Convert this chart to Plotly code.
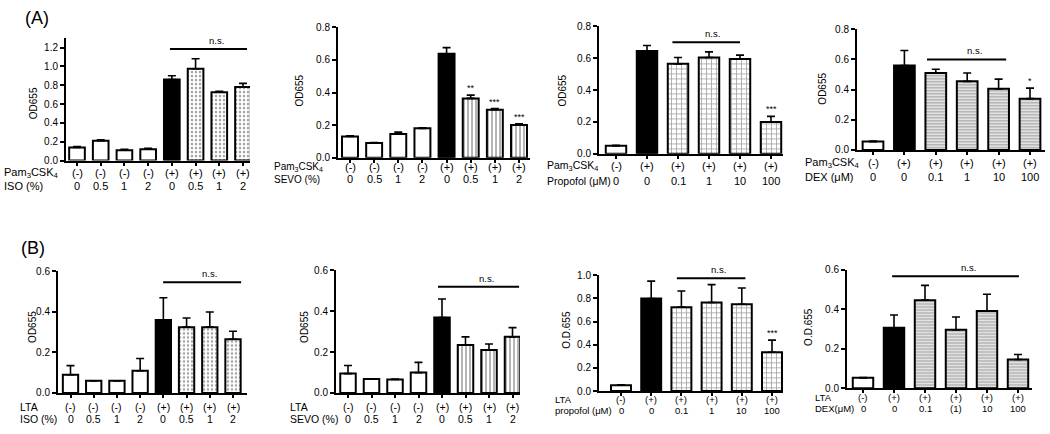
import plotly.graph_objects as go

W, H = 1050, 434

# ---------------- data ----------------
pam_iso_stim = ["(-)", "(-)", "(-)", "(-)", "(+)", "(+)", "(+)", "(+)"]
iso_dose = ["0", "0.5", "1", "2", "0", "0.5", "1", "2"]
sevo_dose = ["0", "0.5", "1", "2", "0", "0.5", "1", "2"]
six_stim = ["(-)", "(+)", "(+)", "(+)", "(+)", "(+)"]
propofol_dose = ["0", "0", "0.1", "1", "10", "100"]
dex_dose_a = ["0", "0", "0.1", "1", "10", "100"]
dex_dose_b = ["0", "0", "0.1", "(1)", "10", "100"]

a_iso_val = [0.14, 0.21, 0.11, 0.12, 0.86, 0.975, 0.725, 0.78]
a_iso_err = [0.01, 0.01, 0.01, 0.01, 0.04, 0.105, 0.01, 0.04]
a_sevo_val = [0.13, 0.09, 0.145, 0.18, 0.638, 0.364, 0.294, 0.20]
a_sevo_err = [0.005, 0.003, 0.012, 0.003, 0.038, 0.02, 0.008, 0.008]
a_prop_val = [0.05, 0.645, 0.565, 0.605, 0.595, 0.20]
a_prop_err = [0.003, 0.035, 0.04, 0.035, 0.025, 0.035]
a_dex_val = [0.055, 0.56, 0.51, 0.455, 0.405, 0.34]
a_dex_err = [0.003, 0.10, 0.025, 0.055, 0.065, 0.07]

b_iso_val = [0.09, 0.06, 0.06, 0.11, 0.36, 0.325, 0.325, 0.265]
b_iso_err = [0.045, 0.0, 0.0, 0.06, 0.11, 0.045, 0.075, 0.04]
b_sevo_val = [0.095, 0.068, 0.066, 0.10, 0.37, 0.235, 0.21, 0.275]
b_sevo_err = [0.04, 0.002, 0.002, 0.05, 0.09, 0.04, 0.03, 0.045]
b_prop_val = [0.05, 0.80, 0.725, 0.765, 0.75, 0.335]
b_prop_err = [0.003, 0.15, 0.14, 0.155, 0.14, 0.105]
b_dex_val = [0.052, 0.305, 0.445, 0.295, 0.39, 0.145]
b_dex_err = [0.002, 0.065, 0.075, 0.065, 0.085, 0.025]

# significance marks: (bar index, text)
a_sevo_sig = [(5, "**"), (6, "***"), (7, "***")]
a_prop_sig = [(5, "***")]
a_dex_sig = [(5, "*")]
b_prop_sig = [(5, "***")]

# n.s. bars: (from, to, level)
a_iso_ns = (3.92, 7.17, 1.185)
a_prop_ns = (1.82, 4.0, 0.70)
a_dex_ns = (1.72, 4.24, 0.60)
b_iso_ns = (3.99, 7.35, 0.547)
b_sevo_ns = (3.83, 7.28, 0.52)
b_prop_ns = (1.85, 4.12, 0.975)
b_dex_ns = (0.94, 5.03, 0.566)

PAM = "Pam<sub>3</sub>CSK<sub>4</sub>"

# ---------------- styles / layout ----------------
FONT = "Liberation Sans, Arial, sans-serif"
iso_pat = dict(shape=".", size=4, solidity=0.32, fgcolor="white", bgcolor="black")
sevo_pat = dict(shape="|", size=4, solidity=0.4, fgcolor="black", bgcolor="white")
prop_pat = dict(shape="+", size=5, solidity=0.3, fgcolor="black", bgcolor="white")
dex_pat = dict(shape="-", size=3, solidity=0.55, fgcolor="#8a8a8a", bgcolor="white")

panels = [
    dict(v=a_iso_val, e=a_iso_err, s=pam_iso_stim, d=iso_dose, pat=iso_pat, sig=[], ns=a_iso_ns,
         h1=PAM, h2="ISO (%)", yt="OD655", ymax=1.3, ticks=[0, 0.2, 0.4, 0.6, 0.8, 1.0, 1.2],
         g=(66, 250, 77, 243, 33, 159, 172, 185, 2, 11, 11), ytp=(33, 100)),
    dict(v=a_sevo_val, e=a_sevo_err, s=pam_iso_stim, d=sevo_dose, pat=sevo_pat, sig=a_sevo_sig, ns=None,
         h1=PAM, h2="SEVO (%)", yt="OD655", ymax=0.8, ticks=[0, 0.2, 0.4, 0.6, 0.8],
         g=(338, 530, 350, 519, 22, 156, 166, 178, 272, 11, 10), ytp=(300, 87)),
    dict(v=a_prop_val, e=a_prop_err, s=six_stim, d=propofol_dose, pat=prop_pat, sig=a_prop_sig, ns=a_prop_ns,
         h1=PAM, h2="Propofol (μM)", yt="OD655", ymax=0.8, ticks=[0, 0.2, 0.4, 0.6, 0.8],
         g=(599, 783, 616, 771, 21, 152, 164.5, 180, 545, 11, 10.5), ytp=(563, 87)),
    dict(v=a_dex_val, e=a_dex_err, s=six_stim, d=dex_dose_a, pat=dex_pat, sig=a_dex_sig, ns=a_dex_ns,
         h1=PAM, h2="DEX (μM)", yt="OD655", ymax=0.8, ticks=[0, 0.2, 0.4, 0.6, 0.8],
         g=(857, 1045, 873, 1030, 24, 148, 161, 176, 803, 11, 11), ytp=(823, 85)),
    dict(v=b_iso_val, e=b_iso_err, s=pam_iso_stim, d=iso_dose, pat=iso_pat, sig=[], ns=b_iso_ns,
         h1="LTA", h2="ISO (%)", yt="OD655", ymax=0.6, ticks=[0, 0.2, 0.4, 0.6],
         g=(58, 247, 70.5, 233, 273, 398, 412, 425, 18, 10.5, 10.5), ytp=(33, 330)),
    dict(v=b_sevo_val, e=b_sevo_err, s=pam_iso_stim, d=sevo_dose, pat=sevo_pat, sig=[], ns=b_sevo_ns,
         h1="LTA", h2="SEVO (%)", yt="OD655", ymax=0.6, ticks=[0, 0.2, 0.4, 0.6],
         g=(336, 520, 348, 512.5, 272, 398, 412, 425, 288, 10.5, 10.5), ytp=(305, 330)),
    dict(v=b_prop_val, e=b_prop_err, s=six_stim, d=propofol_dose, pat=prop_pat, sig=b_prop_sig, ns=b_prop_ns,
         h1="LTA", h2="propofol (μM)", yt="O.D.655", ymax=1.0, ticks=[0, 0.2, 0.4, 0.6, 0.8, 1.0],
         g=(599, 783, 621, 772, 277, 396, 405, 416, 553, 9.5, 9.5), ytp=(567, 333)),
    dict(v=b_dex_val, e=b_dex_err, s=six_stim, d=dex_dose_b, pat=dex_pat, sig=[], ns=b_dex_ns,
         h1="LTA", h2="DEX(μM)", yt="O.D.655", ymax=0.6, ticks=[0, 0.2, 0.4, 0.6],
         g=(847, 1032, 863, 1018, 271, 393, 403, 414, 813, 9.5, 9.5), ytp=(809, 330)),
]


def fx(px):
    return px / W


def fy(py):
    return 1 - py / H


fig = go.Figure()
annotations = []
shapes = []
layout = {}

for i, p in enumerate(panels, start=1):
    x0, x1, c0, cN, ytop, ybot, r1, r2, hx, fsz, hsz = p["g"]
    n = len(p["v"])
    step = (cN - c0) / (n - 1)
    xs = list(range(n))
    ctrl = p["s"]
    colors, shapes_pat = [], []
    for j in range(n):
        if ctrl[j] == "(-)":
            colors.append("white"); shapes_pat.append("")
        elif j == ctrl.index("(+)"):
            colors.append("black"); shapes_pat.append("")
        else:
            colors.append("white"); shapes_pat.append(p["pat"]["shape"])
    pat = dict(p["pat"])
    pat["shape"] = shapes_pat
    pat["bgcolor"] = [p["pat"]["bgcolor"] if s else c for s, c in zip(shapes_pat, colors)]
    xa = "x" if i == 1 else f"x{i}"
    ya = "y" if i == 1 else f"y{i}"
    fig.add_trace(go.Bar(
        x=xs, y=p["v"], xaxis=xa, yaxis=ya, width=0.66,
        marker=dict(color=colors, line=dict(color="black", width=2), pattern=pat),
        error_y=dict(type="data", symmetric=False, array=p["e"], arrayminus=[0] * n,
                     color="black", thickness=1.6, width=4),
        showlegend=False, hoverinfo="skip",
    ))
    key = "" if i == 1 else str(i)
    layout[f"xaxis{key}"] = dict(
        domain=[fx(x0), fx(x1)], anchor=ya,
        range=[(x0 - c0) / step, (x1 - c0) / step],
        showline=True, linecolor="black", linewidth=2,
        ticks="outside", ticklen=3, tickwidth=1.5, tickcolor="black",
        tickvals=xs, showticklabels=False, showgrid=False, zeroline=False, fixedrange=True,
    )
    layout[f"yaxis{key}"] = dict(
        domain=[fy(ybot), fy(ytop)], anchor=xa, range=[0, p["ymax"]],
        showline=True, linecolor="black", linewidth=2,
        ticks="outside", ticklen=4, tickwidth=1.5, tickcolor="black",
        tickvals=p["ticks"], tickformat=".1f", tickfont=dict(size=10, family=FONT, color="black"),
        showgrid=False, zeroline=False, fixedrange=True,
    )
    for j in range(n):
        annotations.append(dict(x=j, xref=xa, y=fy(r1), yref="paper", text=p["s"][j],
                                showarrow=False, font=dict(size=fsz, family=FONT, color="black"),
                                xanchor="center", yanchor="middle"))
        annotations.append(dict(x=j, xref=xa, y=fy(r2), yref="paper", text=p["d"][j],
                                showarrow=False, font=dict(size=fsz, family=FONT, color="black"),
                                xanchor="center", yanchor="middle"))
    annotations.append(dict(x=fx(hx), xref="paper", y=fy(r1), yref="paper", text=p["h1"],
                            showarrow=False, font=dict(size=hsz, family=FONT, color="black"),
                            xanchor="left", yanchor="middle"))
    annotations.append(dict(x=fx(hx), xref="paper", y=fy(r2), yref="paper", text=p["h2"],
                            showarrow=False, font=dict(size=hsz, family=FONT, color="black"),
                            xanchor="left", yanchor="middle"))
    tx, ty = p["ytp"]
    annotations.append(dict(x=fx(tx), xref="paper", y=fy(ty), yref="paper", text=p["yt"],
                            textangle=-90, showarrow=False,
                            font=dict(size=10, family=FONT, color="black"),
                            xanchor="center", yanchor="middle"))
    for j, t in p["sig"]:
        annotations.append(dict(x=j, xref=xa, y=p["v"][j] + p["e"][j], yref=ya, text=t,
                                showarrow=False, font=dict(size=9, family=FONT, color="black"),
                                xanchor="center", yanchor="bottom"))
    if p["ns"] is not None:
        a, b, lev = p["ns"]
        shapes.append(dict(type="line", xref=xa, yref=ya, x0=a, x1=b, y0=lev, y1=lev,
                           line=dict(color="black", width=2)))
        annotations.append(dict(x=(a + b) / 2 + (b - a) * 0.1, xref=xa, y=lev, yref=ya, text="n.s.",
                                showarrow=False, font=dict(size=9.5, family=FONT, color="black"),
                                xanchor="center", yanchor="bottom", yshift=1))

annotations.append(dict(x=fx(37), xref="paper", y=fy(12), yref="paper", text="(A)", showarrow=False,
                        font=dict(size=18, family=FONT, color="black"), xanchor="center", yanchor="middle"))
annotations.append(dict(x=fx(33), xref="paper", y=fy(249), yref="paper", text="(B)", showarrow=False,
                        font=dict(size=18, family=FONT, color="black"), xanchor="center", yanchor="middle"))

fig.update_layout(
    width=W, height=H, margin=dict(l=0, r=0, t=0, b=0),
    paper_bgcolor="white", plot_bgcolor="white",
    font=dict(family=FONT, color="black"),
    annotations=annotations, shapes=shapes, bargap=0.3,
    **layout,
)

fig.write_html("out.html", config={"displayModeBar": False},
               post_script="document.body.style.margin='0';document.body.style.overflow='hidden';")
